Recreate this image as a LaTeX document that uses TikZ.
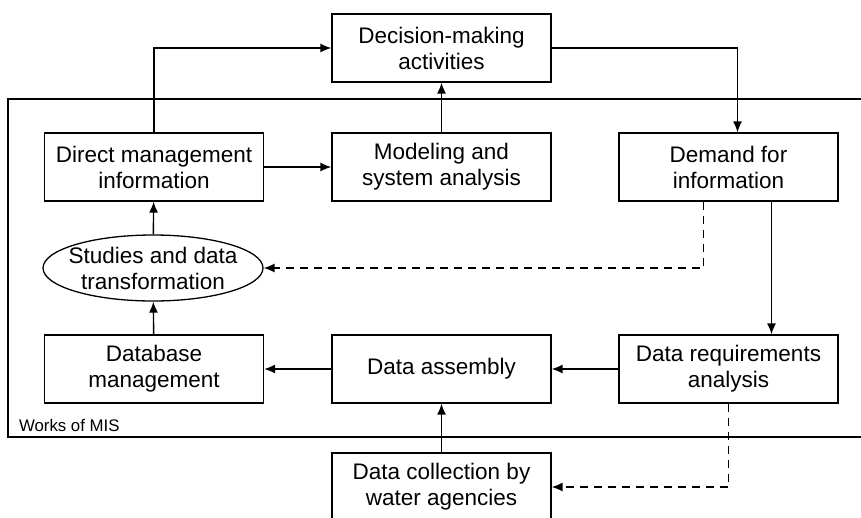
\documentclass[tikz,border=0pt]{standalone}
\usepackage{fontspec}
\setmainfont{Liberation Sans}
\usetikzlibrary{arrows.meta,shapes.geometric}

\begin{document}
\begin{tikzpicture}[x=1pt,y=-1pt,
        box/.style={draw, line width=1.3pt, minimum width=219pt, minimum height=68pt, align=center,
            font=\fontsize{22.5}{26}\selectfont, inner sep=0pt},
        oval/.style={draw, ellipse, line width=1.3pt, minimum width=220pt, minimum height=66pt, align=center,
            font=\fontsize{22.5}{26}\selectfont, inner xsep=-21pt, inner ysep=-6pt},
        >={Latex[length=11pt,width=9pt]}, line width=1.4pt]
        \useasboundingbox (0,0) rectangle (861,517);
        \clip (0,0) rectangle (861,517);

        % outer frame of the MIS part
        \draw[line width=1.4pt] (870,99) -- (8,99) -- (8,437) -- (870,437);
        \node[anchor=base west, font=\fontsize{16.8}{18}\selectfont] (w) at (15,431) {Works of MIS};

        \node[box] (0) at (441.5,48) {Decision-making\\activities};
        \node[box] (1) at (154,167) {Direct management\\information};
        \node[box] (2) at (441.5,167) {Modeling and\\system analysis};
        \node[box] (3) at (728.5,167) {Demand for\\information};
        \node[oval] (4) at (153,268) {Studies and data\\transformation};
        \node[box] (5) at (154,369) {Database\\management};
        \node[box] (6) at (441.5,369) {Data assembly};
        \node[box] (7) at (728.5,369) {Data requirements\\analysis};
        \node[box] (8) at (441.5,487) {Data collection by\\water agencies};

        \draw[->] (1.north) |- (0.west);
        \draw[->] (0.east) -| ([xshift=9pt]3.north);
        \draw[->] (2) -- (0);
        \draw[->] (1) -- (2);
        \draw[->] (4) -- (1);
        \draw[->] (5) -- (4);
        \draw[->] (6) -- (5);
        \draw[->] (7) -- (6);
        \draw[->] (8) -- (6);
        \draw[->] ([xshift=43pt]3.south) -- ([xshift=43pt]7.north);
        \draw[->, dashed, dash pattern=on 8pt off 6pt] ([xshift=-25pt]3.south) |- (4.east);
        \draw[->, dashed, dash pattern=on 8pt off 6pt] (7.south) |- (8.east);
    \end{tikzpicture}
\end{document}
